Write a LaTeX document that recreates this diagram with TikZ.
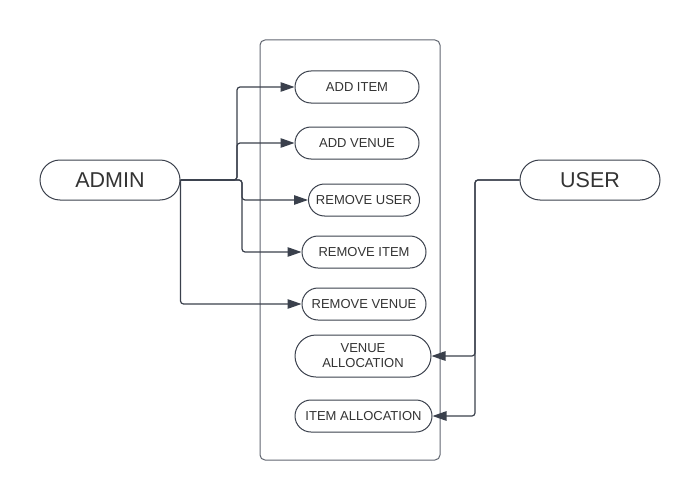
\documentclass[tikz,border=0pt]{standalone}
\usepackage{fontspec}
\setmainfont{Liberation Sans}
\usetikzlibrary{arrows.meta}
\definecolor{ink}{HTML}{3A404C}
\definecolor{txt}{HTML}{333333}
\tikzset{
  uc/.style={draw=ink, line width=1pt, rectangle, rounded corners=#1, inner sep=0pt, text=txt, font=\fontsize{13}{15}\selectfont, align=center},
  actor/.style={uc=20pt, minimum width=140pt, minimum height=40pt, font=\fontsize{21.5}{24}\selectfont},
  conn/.style={draw=ink, line width=1.2pt, rounded corners=3pt, -{Triangle[length=14pt,width=9.5pt]}},
  box/.style={draw=ink!80, line width=1pt, rounded corners=5pt}
}
\begin{document}
\begin{tikzpicture}[x=1pt,y=-1pt]
\useasboundingbox (0,0) rectangle (700,500);
\draw[box] (260,40) rectangle (440,460);
\node[actor] (admin) at (110,180) {ADMIN};
\node[actor] (user) at (590,180) {USER};
\node[uc=16pt, minimum width=124pt, minimum height=32pt] (additem) at (357,87) {ADD ITEM};
\node[uc=16pt, minimum width=124pt, minimum height=32pt] (addvenue) at (357,143) {ADD VENUE};
\node[uc=16pt, minimum width=111pt, minimum height=32pt] (remuser) at (364,200) {REMOVE USER};
\node[uc=16pt, minimum width=124pt, minimum height=32pt] (remitem) at (364,252) {REMOVE ITEM};
\node[uc=16pt, minimum width=124pt, minimum height=32pt] (remvenue) at (364,304) {REMOVE VENUE};
\node[uc=21pt, minimum width=136pt, minimum height=42pt] (venalloc) at (363,356) {VENUE\\ALLOCATION};
\node[uc=16pt, minimum width=137pt, minimum height=32pt] (italloc) at (363.5,416) {ITEM ALLOCATION};
\coordinate (ja) at (237,180);
\coordinate (jb) at (242,180);
\coordinate (ju) at (475,180);
\draw[conn] (admin.east) -- (ja) |- (additem.west);
\draw[conn] (admin.east) -- (ja) |- (addvenue.west);
\draw[conn] (admin.east) -- (jb) |- (remuser.west);
\draw[conn] (admin.east) -- (jb) |- (remitem.west);
\draw[conn] (admin.east) |- (remvenue.west);
\draw[conn] (user.west) -- (ju) |- (venalloc.east);
\draw[conn] (user.west) -- (ju) |- (italloc.east);
\end{tikzpicture}
\end{document}
